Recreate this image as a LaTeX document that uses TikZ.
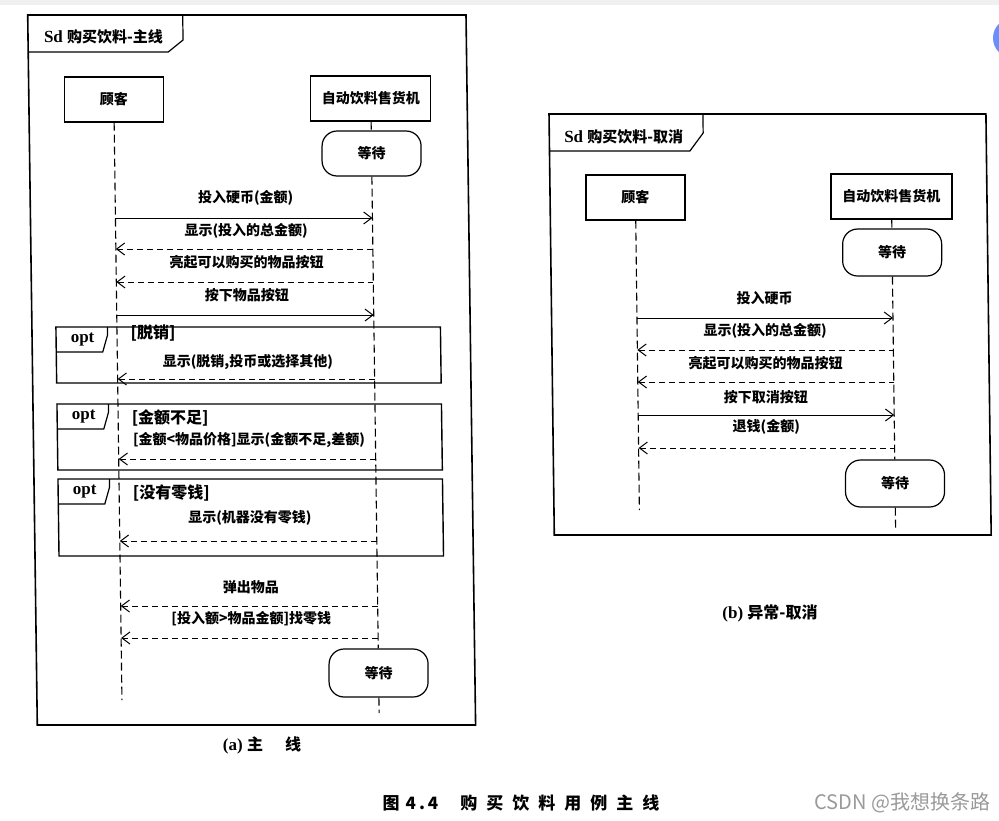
\documentclass[tikz,border=0pt]{standalone}
\usepackage{fontspec}
\setmainfont{Liberation Serif}
\newfontfamily\cjk{Noto Sans CJK SC}
\usetikzlibrary{arrows.meta}

\definecolor{uiblue}{HTML}{6B8EFF}
\definecolor{markgray}{HTML}{9A9A9A}

\tikzset{
  frm/.style={draw, line width=1.6pt},
  tab/.style={line width=1.2pt},
  optfrm/.style={draw, line width=1.4pt},
  obj/.style={draw, line width=1.2pt, minimum width=99pt, minimum height=45pt, inner sep=0pt,
    font=\cjk\fontsize{14}{16}\bfseries},
  waitbox/.style={obj, rounded corners=15pt},
  life/.style={line width=1.1pt, dash pattern=on 8pt off 4pt},
  call/.style={line width=1pt, -{Straight Barb[length=8pt,width=12pt]}},
  reply/.style={line width=1pt, dash pattern=on 6pt off 4pt, {Straight Barb[length=8pt,width=12pt]}-},
  lbl/.style={inner sep=0pt, font=\cjk\fontsize{14}{16}\bfseries},
  guard/.style={inner sep=0pt, anchor=west, font=\cjk\fontsize{16}{18}\bfseries},
  kw/.style={inner sep=0pt, font=\fontsize{17}{19}\bfseries},
}

\begin{document}
\begin{tikzpicture}[x=1pt, y=-1pt]
  \useasboundingbox (0,0) rectangle (999,820);
  \fill[white] (0,0) rectangle (999,820);
  \fill[black!6] (0,0) rectangle (999,5);
  \begin{scope}
    \clip (0,0) rectangle (999,820);
    \fill[uiblue] (1013,38) circle (20);
  \end{scope}

  % (a) main line
  \begin{scope}[xslant=-0.0135]
    \draw[frm] (27.5,15) rectangle (465.8,725);
    \draw[tab] (27.5,52) -- (167.5,52) -- (182.5,40) -- (182.5,15);
    \node[kw] (titleA) at (103,36.5) {Sd {\cjk\fontsize{15}{17}\bfseries 购买饮料-主线}};

    \node[obj] (guke) at (112.5,99.5) {顾客};
    \node[obj, minimum width=120pt] (jiqi) at (369.5,98.5) {自动饮料售货机};
    \node[waitbox] (wait1) at (369.5,153.5) {等待};
    \node[waitbox, minimum height=48pt] (wait2) at (369.5,673) {等待};
    \coordinate (gukeEnd) at (112.5,700);
    \coordinate (jiqiEnd) at (369.5,713);
    \draw[life] (guke) -- (gukeEnd);
    \draw[life] (jiqi) -- (wait1);
    \draw[life] (wait1) -- (wait2);
    \draw[life] (wait2) -- (jiqiEnd);

    \foreach \t/\b/\gy/\g [count=\i] in {327/383/333.5/脱销, 404/470/418/金额不足, 479/556/493/没有零钱} {
      \draw[optfrm] (51.5,\t) rectangle (436,\b);
      \draw[tab] (51.5,\t+25) -- (98,\t+25) -- (103,\t+8) -- (103,\t);
      \node[kw] (opt\i) at (78,\t+13) {opt};
      \node[guard] (g\i) at (126,\gy) {[\g]};
    }

    \foreach \y/\ly/\sty/\txt in {218/198/call/{投入硬币(金额)}, 249/231/reply/{显示(投入的总金额)},
        282/262/reply/{亮起可以购买的物品按钮}, 315/295/call/{按下物品按钮},
        379/362/reply/{显示(脱销,投币或选择其他)}, 459/440/reply/{[金额<物品价格]显示(金额不足,差额)},
        541/518/reply/{显示(机器没有零钱)}, 606/587/reply/{弹出物品},
        638/619/reply/{[投入额>物品金额]找零钱}} {
      \coordinate (a\y) at (112.5,\y);
      \coordinate (b\y) at (369.5,\y);
      \draw[\sty] (a\y) -- (b\y);
      \node[lbl] (m\y) at (243,\ly) {\txt};
    }
  \end{scope}

  % (b) cancel
  \begin{scope}[xslant=-0.0125]
    \draw[frm] (547.6,114) rectangle (984.5,535);
    \draw[tab] (547.6,151) -- (688,151) -- (701.5,133) -- (701.5,114);
    \node[kw] (titleB) at (622,136.5) {Sd {\cjk\fontsize{15}{17}\bfseries 购买饮料-取消}};

    \node[obj] (guke2) at (633,197.5) {顾客};
    \node[obj, minimum width=121pt] (jiqi2) at (889,196.5) {自动饮料售货机};
    \node[waitbox, minimum height=47pt] (wait3) at (889,252.5) {等待};
    \node[waitbox, minimum height=47pt] (wait4) at (889,483.5) {等待};
    \coordinate (guke2End) at (633,510);
    \coordinate (jiqi2End) at (889,530);
    \draw[life] (guke2) -- (guke2End);
    \draw[life] (jiqi2) -- (wait3);
    \draw[life] (wait3) -- (wait4);
    \draw[life] (wait4) -- (jiqi2End);

    \foreach \y/\ly/\sty/\txt in {318/298/call/{投入硬币}, 350/331/reply/{显示(投入的总金额)},
        382/363/reply/{亮起可以购买的物品按钮}, 415/397/call/{按下取消按钮},
        448/427/reply/{退钱(金额)}} {
      \coordinate (c\y) at (633,\y);
      \coordinate (d\y) at (889,\y);
      \draw[\sty] (c\y) -- (d\y);
      \node[lbl] (n\y) at (761,\ly) {\txt};
    }
  \end{scope}

  \node[kw] (capA) at (262,745) {(a) {\cjk\fontsize{16}{18}\bfseries 主\hspace{22pt}线}};
  \node[kw] (capB) at (770,613) {(b) {\cjk\fontsize{16}{18}\bfseries 异常-取消}};
  \node[inner sep=0pt, font=\cjk\fontsize{17}{20}\bfseries] (fig) at (521,803)
    {图\hspace{6pt}4\hspace{3pt}.\hspace{3pt}4\hspace{22pt}购\hspace{9pt}买\hspace{9pt}饮\hspace{9pt}料\hspace{9pt}用\hspace{9pt}例\hspace{9pt}主\hspace{9pt}线};
  \node[inner sep=0pt, font=\cjk\fontsize{20}{22}\selectfont, text=markgray] (mark) at (902.5,803) {CSDN @我想换条路};
\end{tikzpicture}
\end{document}
